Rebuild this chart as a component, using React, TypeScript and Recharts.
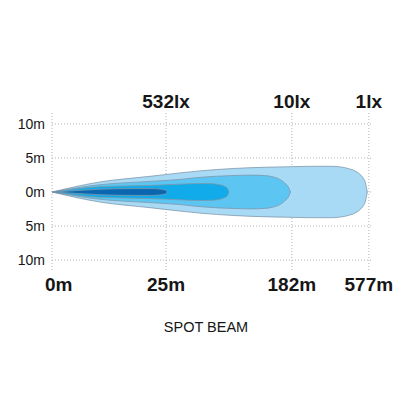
import { AreaChart, Area, XAxis, YAxis, CartesianGrid } from "recharts";

/* ── palette ── */
const C = {
  outer: "#a8daf6",
  mid: "#5cc5f1",
  core: "#10abe8",
  hot: "#0b66b0",
  edge: "#7f98ab",
  grid: "#b3b3b3",
  ink: "#161616",
};

const FONT = '"Liberation Sans", Arial, Helvetica, sans-serif';

/* ── axes ── */
const xTicks = [0, 36, 75.7, 100];
const xLabels = ["0m", "25m", "182m", "577m"];
const luxTicks = [36, 75.7, 100];
const luxLabels = ["532lx", "10lx", "1lx"];
const yTicks = [10, 5, 0, -5, -10];
const yLabels = ["10m", "5m", "0m", "5m", "10m"];

/* ── beam outlines: position along axis, half width in metres ── */
const outerPos = [0, 15.1, 30.9, 40.4, 46.7, 57.2, 66, 75.7, 84, 88.6, 91.5, 94, 96, 97.2, 98.2, 98.9, 99.5];
const outerHalf = [0, 1.47, 2.3, 2.8, 3.1, 3.45, 3.62, 3.72, 3.78, 3.77, 3.65, 3.38, 3.0, 2.6, 2.05, 1.4, 0];

const midPos = [0, 15.1, 30.9, 40.4, 46.7, 57.2, 63, 67, 69.8, 71.9, 73.4, 74.5, 75.3];
const midHalf = [0, 1.07, 1.56, 1.85, 2.15, 2.42, 2.48, 2.42, 2.22, 1.85, 1.35, 0.8, 0];

const corePos = [0, 15.1, 30.9, 40.4, 46.7, 50.5, 53, 54.6, 55.4, 55.9];
const coreHalf = [0, 0.78, 0.97, 1.15, 1.25, 1.22, 1.05, 0.8, 0.5, 0];

const hotPos = [0, 5.7, 15.1, 25.6, 31.5, 34, 35.4, 36.1, 36.4];
const hotHalf = [0, 0.15, 0.4, 0.5, 0.5, 0.44, 0.33, 0.2, 0];

const band = (pos: number[], half: number[]) =>
  pos.map((x, i) => ({ x, r: [-half[i], half[i]] }));

const beams = [
  { key: "outer", data: band(outerPos, outerHalf), fill: C.outer },
  { key: "mid", data: band(midPos, midHalf), fill: C.mid },
  { key: "core", data: band(corePos, coreHalf), fill: C.core },
  { key: "hot", data: band(hotPos, hotHalf), fill: C.hot },
];

/* ── ticks ── */
const BottomTick = ({ x, y, payload, index }: any) => {
  const i = xTicks.indexOf(payload.value);
  const first = i === 0;
  return (
    <text
      x={first ? x - 7 : x}
      y={y + 20}
      textAnchor={first ? "start" : "middle"}
      fontFamily={FONT}
      fontWeight="bold"
      fontSize={19}
      fill={C.ink}
    >
      {xLabels[i >= 0 ? i : index]}
    </text>
  );
};

const TopTick = ({ x, y, payload, index }: any) => {
  const i = luxTicks.indexOf(payload.value);
  return (
    <text
      x={x}
      y={y - 5}
      textAnchor="middle"
      fontFamily={FONT}
      fontWeight="bold"
      fontSize={19}
      fill={C.ink}
    >
      {luxLabels[i >= 0 ? i : index]}
    </text>
  );
};

const LeftTick = ({ x, y, payload, index }: any) => {
  const i = yTicks.indexOf(payload.value);
  return (
    <text
      x={x}
      y={y + 5}
      textAnchor="end"
      fontFamily={FONT}
      fontSize={14}
      fill={C.ink}
    >
      {yLabels[i >= 0 ? i : index]}
    </text>
  );
};

/* ── APP ── */
export default function App() {
  return (
    <div
      style={{
        position: "absolute",
        top: 0,
        left: 0,
        width: 416,
        height: 416,
        background: "#fff",
      }}
    >
      <AreaChart
        width={416}
        height={416}
        margin={{ top: 83, right: 44, bottom: 115, left: 0 }}
      >
        {/* syncWithTicks: lines only at ticks, no frame at the plot edges */}
        <CartesianGrid
          xAxisId="b"
          stroke={C.grid}
          strokeDasharray="1 2"
          syncWithTicks
        />
        <XAxis
          xAxisId="b"
          type="number"
          dataKey="x"
          domain={[0, 101]}
          ticks={xTicks}
          allowDataOverflow
          axisLine={false}
          tickLine={false}
          tickSize={0}
          tickMargin={0}
          height={30}
          tick={<BottomTick />}
          interval={0}
        />
        <XAxis
          xAxisId="t"
          orientation="top"
          type="number"
          dataKey="x"
          domain={[0, 101]}
          ticks={luxTicks}
          allowDataOverflow
          axisLine={false}
          tickLine={false}
          tickSize={0}
          tickMargin={0}
          height={30}
          tick={<TopTick />}
          interval={0}
        />
        <YAxis
          type="number"
          domain={[-11.6, 11.6]}
          ticks={yTicks}
          allowDataOverflow
          axisLine={false}
          tickLine={false}
          tickSize={0}
          tickMargin={7}
          width={52}
          tick={<LeftTick />}
          interval={0}
        />
        {beams.map((b) => (
          <Area
            key={b.key}
            xAxisId="b"
            data={b.data}
            dataKey="r"
            type="monotone"
            fill={b.fill}
            fillOpacity={1}
            stroke={C.edge}
            strokeWidth={0.8}
            dot={false}
            activeDot={false}
            isAnimationActive={false}
          />
        ))}
      </AreaChart>
      <div
        style={{
          position: "absolute",
          left: 0,
          width: 412,
          top: 319,
          textAlign: "center",
          fontFamily: FONT,
          fontSize: 14.5,
          lineHeight: "16px",
          color: C.ink,
        }}
      >
        SPOT BEAM
      </div>
    </div>
  );
}
